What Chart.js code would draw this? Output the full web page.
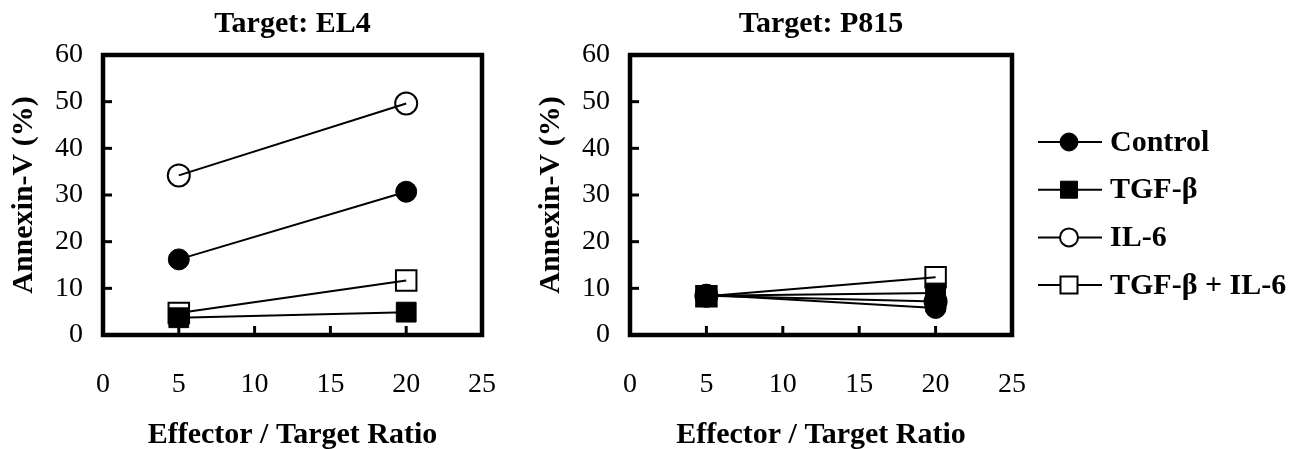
<!DOCTYPE html>
<html>
<head>
<meta charset="utf-8">
<script src="https://cdn.jsdelivr.net/npm/chart.js@4.4.1/dist/chart.umd.min.js"></script>
<style>
  html, body { margin: 0; padding: 0; background: #fff; }
  #wrap { position: relative; width: 1299px; height: 449px; overflow: hidden; }
  canvas { position: absolute; top: 0; }
  #el4 { left: 0; }
  #p815 { left: 527px; }
</style>
</head>
<body>
<div id="wrap">
  <canvas id="el4" width="560" height="449"></canvas>
  <canvas id="p815" width="772" height="449"></canvas>
</div>
<script>
// data
const ratios = [5, 20];
const seriesNames = ['Control', 'TGF-β', 'IL-6', 'TGF-β + IL-6'];

const el4Control = [16.2, 30.7];
const el4Tgf = [3.7, 4.9];
const el4Il6 = [34.2, 49.6];
const el4TgfIl6 = [4.7, 11.7];

const p815Control = [8.6, 5.8];
const p815Tgf = [8.4, 9.0];
const p815Il6 = [8.4, 7.2];
const p815TgfIl6 = [8.3, 12.4];

const xTicks = [0, 5, 10, 15, 20, 25];
const yTicks = [0, 10, 20, 30, 40, 50, 60];

const FONT = "'Liberation Serif', 'Times New Roman', serif";

// marker look per series
const markers = [
  { style: 'circle', radius: 10.5, fill: '#000', border: 1 },
  { style: 'rect', radius: 14, fill: '#000', border: 1 },
  { style: 'circle', radius: 11, fill: 'rgba(0,0,0,0)', border: 2 },
  { style: 'rect', radius: 14.5, fill: 'rgba(0,0,0,0)', border: 2 }
];

function makeDatasets(seriesValues) {
  return seriesValues.map((vals, i) => ({
    label: seriesNames[i],
    data: ratios.map((x, j) => ({ x: x, y: vals[j] })),
    showLine: true,
    borderColor: '#000',
    borderWidth: 2,
    pointStyle: markers[i].style,
    pointRadius: markers[i].radius,
    pointBackgroundColor: markers[i].fill,
    pointBorderColor: '#000',
    pointBorderWidth: markers[i].border,
    clip: false
  }));
}

// box around the plot plus the little inward ticks
const framePlugin = {
  id: 'frame',
  beforeDatasetsDraw(chart) {
    const { ctx, chartArea: a, scales } = chart;
    ctx.save();
    ctx.strokeStyle = '#000';
    ctx.lineWidth = 3;
    yTicks.slice(1, -1).forEach(v => {
      const y = scales.y.getPixelForValue(v);
      ctx.beginPath();
      ctx.moveTo(a.left, y);
      ctx.lineTo(a.left + 9, y);
      ctx.stroke();
    });
    xTicks.slice(1, -1).forEach(v => {
      const x = scales.x.getPixelForValue(v);
      ctx.beginPath();
      ctx.moveTo(x, a.bottom);
      ctx.lineTo(x, a.bottom - 9);
      ctx.stroke();
    });
    ctx.lineWidth = 4.5;
    ctx.strokeRect(a.left, a.top, a.right - a.left, a.bottom - a.top);
    ctx.restore();
  }
};

// legend with a line running through each marker
const sideLegend = {
  id: 'sideLegend',
  afterDraw(chart, args, opts) {
    if (!opts.show) return;
    const ctx = chart.ctx;
    ctx.save();
    chart.data.datasets.forEach((ds, i) => {
      const y = opts.top + i * opts.gap;
      ctx.strokeStyle = '#000';
      ctx.lineWidth = 2;
      ctx.beginPath();
      ctx.moveTo(opts.lineStart, y);
      ctx.lineTo(opts.lineEnd, y);
      ctx.stroke();
      const m = markers[i];
      ctx.beginPath();
      if (m.style === 'circle') {
        ctx.arc(opts.markX, y, 9, 0, Math.PI * 2);
      } else {
        ctx.rect(opts.markX - 8.5, y - 8.5, 17, 17);
      }
      ctx.fillStyle = m.fill === '#000' ? '#000' : '#fff';
      ctx.fill();
      ctx.lineWidth = m.border;
      ctx.stroke();
      ctx.fillStyle = '#000';
      ctx.font = 'bold 30px ' + FONT;
      ctx.textBaseline = 'middle';
      ctx.textAlign = 'left';
      ctx.fillText(ds.label, opts.textX, y + 1);
    });
    ctx.restore();
  }
};

function makeChart(id, title, seriesValues, rightPad, legendOpts) {
  return new Chart(document.getElementById(id), {
    type: 'scatter',
    data: { datasets: makeDatasets(seriesValues) },
    plugins: [framePlugin, sideLegend],
    options: {
      responsive: false,
      animation: false,
      events: [],
      devicePixelRatio: 1,
      layout: { padding: { left: 0, right: rightPad, top: 0, bottom: 0 } },
      plugins: {
        legend: { display: false },
        tooltip: { enabled: false },
        title: {
          display: true,
          text: title,
          fullSize: false,
          color: '#000',
          font: { family: FONT, size: 30, weight: 'bold' },
          padding: { top: 6, bottom: 13 }
        },
        sideLegend: legendOpts
      },
      scales: {
        x: {
          type: 'linear',
          min: 0,
          max: 25,
          afterBuildTicks: s => { s.ticks = xTicks.map(v => ({ value: v })); },
          afterFit: s => { s.height = 114; },
          grid: { display: false, drawTicks: false },
          border: { display: false },
          ticks: { color: '#000', padding: 33, font: { family: FONT, size: 28 } },
          title: {
            display: true,
            text: 'Effector / Target Ratio',
            color: '#000',
            font: { family: FONT, size: 30, weight: 'bold' },
            padding: { top: 0, bottom: -4 }
          }
        },
        y: {
          type: 'linear',
          min: 0,
          max: 60,
          afterBuildTicks: s => { s.ticks = yTicks.map(v => ({ value: v })); },
          afterFit: s => { s.width = 103; },
          grid: { display: false, drawTicks: false },
          border: { display: false },
          ticks: { color: '#000', padding: 20, font: { family: FONT, size: 28 } },
          title: {
            display: true,
            text: 'Annexin-V (%)',
            color: '#000',
            font: { family: FONT, size: 30, weight: 'bold' },
            padding: { top: 6, bottom: 0 }
          }
        }
      }
    }
  });
}

makeChart('el4', 'Target: EL4', [el4Control, el4Tgf, el4Il6, el4TgfIl6], 78, { show: false });
makeChart('p815', 'Target: P815', [p815Control, p815Tgf, p815Il6, p815TgfIl6], 287, {
  show: true, top: 142, gap: 47.7, lineStart: 511, lineEnd: 575, markX: 542, textX: 583
});
</script>
</body>
</html>
